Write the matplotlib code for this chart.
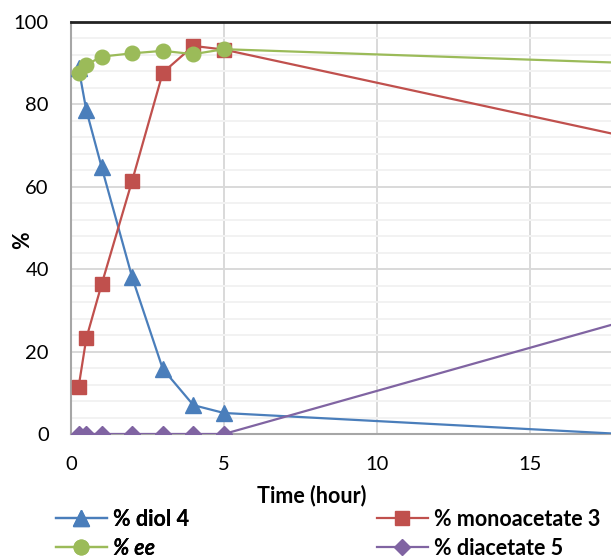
import matplotlib
matplotlib.use('Agg')
from matplotlib import pyplot as plt
from matplotlib.ticker import MultipleLocator

plt.rcParams['font.family'] = ['Lato', 'DejaVu Sans']

# time points (hour); the last point lies just past the visible edge
time = [0.25, 0.5, 1, 2, 3, 4, 5, 18]
diol = [88.8, 78.6, 64.8, 38.0, 15.8, 7.0, 5.1, 0.0]
monoacetate = [11.5, 23.2, 36.3, 61.5, 87.7, 94.2, 93.3, 72.4]
ee = [87.6, 89.6, 91.6, 92.4, 93.0, 92.2, 93.4, 90.1]
diacetate = [0, 0, 0, 0, 0, 0, 0, 27.2]

x_ticks = [0, 5, 10, 15]
y_ticks = [0, 20, 40, 60, 80, 100]

fig = plt.figure(figsize=(6.11, 5.59), dpi=100)
ax = fig.add_axes([71 / 611, 1 - 434 / 559, 540 / 611, 412 / 559])

l_diol, = ax.plot(time, diol, color='#4A7EBB', lw=1.6, marker='^', ms=11,
                  label='% diol 4', zorder=3)
l_mono, = ax.plot(time, monoacetate, color='#C0504D', lw=1.6, marker='s', ms=10,
                  label='% monoacetate 3', zorder=4)
l_ee, = ax.plot(time, ee, color='#9BBB59', lw=1.6, marker='o', ms=10.5,
                label='% ee', zorder=5)
l_di, = ax.plot(time, diacetate, color='#8064A2', lw=1.6, marker='D', ms=8,
                label='% diacetate 5', zorder=3)

ax.set_xlim(0, 17.65)
ax.set_ylim(0, 100)
ax.set_xticks(x_ticks)
ax.set_yticks(y_ticks)
ax.yaxis.set_minor_locator(MultipleLocator(4))
ax.grid(which='major', axis='both', color='#D9D9D9', lw=1.4)
ax.grid(which='minor', axis='y', color='#F2F2F2', lw=1.4)
ax.set_axisbelow(True)
ax.tick_params(which='both', length=0, labelsize=14.5)
ax.tick_params(axis='y', pad=16)
ax.tick_params(axis='x', pad=16)

for s in ['left', 'bottom']:
    ax.spines[s].set_color('#A6A6A6')
    ax.spines[s].set_linewidth(1.5)
    ax.spines[s].set_zorder(2.5)
ax.spines['right'].set_visible(False)
ax.spines['top'].set_color('#222222')
ax.spines['top'].set_linewidth(2)

fig.text(23 / 611, 1 - 240 / 559, '%', rotation=90, fontsize=15.5,
         fontweight='bold', ha='center', va='center')
fig.text(312 / 611, 1 - 496 / 559, 'Time (hour)', fontsize=15.5,
         fontweight='bold', ha='center', va='center')

leg_kw = dict(loc='upper left', frameon=False, borderpad=0, borderaxespad=0,
              handlelength=2.35, handletextpad=0.3, labelspacing=0.36,
              prop={'size': 15.5, 'weight': 'bold'})
leg1 = fig.legend([l_diol, l_ee], ['% diol 4', '% ee'],
                  bbox_to_anchor=(56 / 611, 1 - 509 / 559), **leg_kw)
leg1.get_texts()[1].set_fontstyle('italic')
leg2 = fig.legend([l_mono, l_di], ['% monoacetate 3', '% diacetate 5'],
                  bbox_to_anchor=(377 / 611, 1 - 509 / 559), **leg_kw)
fig.add_artist(leg1)

fig.savefig('out.png', dpi=100)
